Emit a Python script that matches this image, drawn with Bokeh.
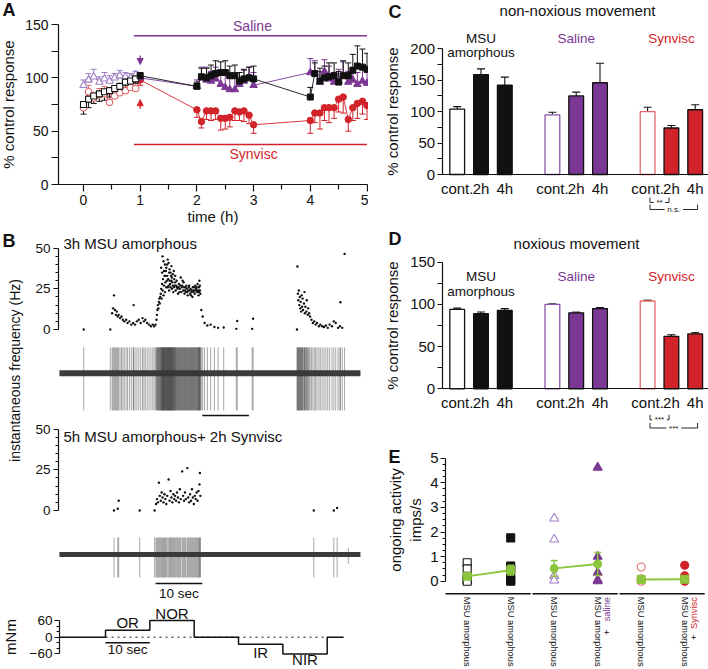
import math
from bokeh.plotting import figure
from bokeh.layouts import row, column
from bokeh.models import Range1d, FixedTicker, Arrow, NormalHead
from bokeh.core.properties import value
from bokeh.embed import file_html
from bokeh.resources import INLINE

FONT = "Liberation Sans"
INK = "#111111"
PURPLE = "#7a3793"
LPURPLE = "#9f7fc4"
RED = "#d2232a"
LRED = "#e3676a"
GREEN = "#8cc63e"
SPIKE = "#3a3a3a"

# ------------------------------------------------------------------ data
# Panel A : % control response over time (h)
base_t = [0.0, 0.09, 0.18, 0.28, 0.37, 0.46, 0.55, 0.64, 0.74, 0.83, 0.92]
msu_base = [75, 80, 83, 85, 87, 88, 90, 92, 96, 97, 99]
msu_base_err = [9, 8, 7, 7, 8, 6, 7, 6, 5, 5, 4]
sal_base = [93, 98, 101, 96, 99, 97, 100, 102, 101, 100, 103]
sal_base_err = [5, 6, 7, 5, 6, 5, 4, 5, 4, 4, 3]
syn_base = [72, 87, 81, 84, 85, 77, 83, 86, 88, 91, 90]
syn_base_err = [5, 6, 5, 6, 7, 6, 6, 7, 6, 6, 5]

post_t = [1.0,
          2.0, 2.08, 2.17, 2.25, 2.33, 2.42, 2.5, 2.58, 2.67, 2.75, 2.83, 2.92, 3.0,
          4.0, 4.08, 4.17, 4.25, 4.33, 4.42, 4.5, 4.58, 4.67, 4.75, 4.83, 4.92, 5.0]
msu_post = [102, 92, 101, 100, 102, 104, 105, 105, 102, 102, 97, 99, 100, 99,
            82, 104, 97, 100, 101, 102, 96, 102, 102, 107, 111, 110, 108]
msu_post_err = [3, 4, 8, 9, 10, 12, 10, 11, 9, 10, 8, 9, 10, 12,
                9, 10, 12, 11, 13, 12, 10, 14, 12, 15, 19, 17, 15]
sal_post = [100, 92, 100, 98, 97, 99, 94, 91, 89, 89, 94, 97, 101, 93,
            105, 104, 96, 106, 99, 96, 97, 102, 96, 98, 94, 97, 95]
sal_post_err = [3, 6, 10, 12, 9, 11, 10, 14, 12, 13, 11, 10, 9, 12,
                13, 12, 10, 11, 12, 9, 11, 13, 10, 12, 11, 12, 10]
syn_post = [98, 70, 59, 69, 69, 69, 62, 62, 63, 69, 68, 69, 65, 56,
            60, 67, 67, 72, 72, 72, 80, 82, 61, 72, 76, 78, 74]
syn_post_err = [5, 7, 6, 8, 9, 8, 11, 10, 9, 9, 8, 10, 8, 8,
                12, 9, 15, 12, 14, 10, 12, 15, 11, 12, 14, 12, 13]

treat_t = [0.89, 5.0]          # extent of the treatment bars (h)
saline_level = 139.5
synvisc_level = 37.5
inj_t = 1.0                    # injection arrows
sal_arrow = (121, 112.5)
syn_arrow = (71, 79.5)

# Panel B : instantaneous frequency (time s, Hz) ; each dot = one spike
b1_early = [(5.4, 0), (11.1, 0), (11.5, 10), (11.7, 13), (11.9, 21), (12.1, 12), (12.3, 9),
            (12.5, 11), (12.7, 8), (12.9, 9), (13.2, 7), (13.5, 8), (13.8, 6), (14.1, 5),
            (14.5, 6), (14.8, 4), (15.2, 5), (15.6, 3), (16.0, 4), (16.1, 15), (16.4, 3),
            (16.8, 5), (17.2, 6), (17.6, 4), (18.0, 7), (18.3, 5), (18.6, 6), (19.0, 4),
            (19.4, 3), (19.8, 2), (20.2, 3), (20.5, 2)]
b1_burst = [(20.8, 3), (21.0, 6), (21.1, 9), (21.2, 12), (21.3, 15), (21.4, 13), (21.5, 17),
            (21.6, 19), (21.7, 16), (21.8, 20), (21.9, 22), (22.0, 25), (22.1, 19), (22.2, 28),
            (22.3, 24), (22.4, 31), (22.5, 21), (22.6, 27), (22.7, 33), (22.8, 23), (22.9, 29),
            (23.0, 36), (23.1, 26), (23.2, 30), (22.3, 45), (22.5, 42), (22.8, 40), (23.1, 38),
            (23.4, 43), (23.6, 41), (23.8, 37), (24.0, 35), (24.2, 39), (24.5, 34), (22.0, 38),
            (22.2, 35), (22.6, 36), (22.9, 33), (23.3, 40), (23.7, 35), (24.3, 32), (24.7, 36),
            (25.0, 33), (23.4, 26), (23.5, 31), (23.7, 24), (23.9, 28), (24.1, 33), (24.3, 25),
            (24.4, 29), (24.6, 23), (24.8, 31), (24.9, 27), (25.1, 24), (25.3, 30), (25.4, 26),
            (25.6, 22), (25.8, 28), (26.0, 25), (26.2, 32), (26.3, 23), (26.5, 27), (26.7, 24),
            (26.8, 29), (23.3, 33), (23.6, 27), (23.8, 30), (24.0, 26), (24.2, 30), (24.5, 27),
            (24.7, 26), (25.0, 29), (25.2, 27), (25.5, 25), (25.7, 26), (25.9, 23), (26.1, 27),
            (26.4, 26), (26.6, 30), (26.9, 26), (27.0, 22), (27.2, 26), (27.3, 23), (27.5, 25),
            (27.7, 21), (27.8, 24), (28.0, 27), (28.2, 22), (28.3, 25), (28.5, 23), (28.7, 20),
            (28.8, 26), (29.0, 24), (29.2, 22), (29.3, 27), (29.5, 25), (29.7, 23), (29.8, 28),
            (30.0, 21), (30.1, 26), (30.2, 30), (30.3, 24), (30.4, 22), (27.1, 24), (27.4, 27),
            (27.6, 23), (27.9, 26), (28.1, 24), (28.4, 21), (28.6, 24), (28.9, 23), (29.1, 26),
            (29.4, 24), (29.6, 26), (29.9, 24), (30.1, 23), (30.3, 27), (30.6, 12), (30.9, 8)]
b1_sparse = [(31.3, 4), (31.9, 2.5), (32.6, 3), (33.4, 1.5), (34.2, 1), (35.4, 1.2),
             (38.1, 0.4), (38.3, 5.3), (41.5, 0.4), (41.7, 6.6)]
b1_second = [(51.1, 0), (51.2, 38.7), (51.3, 22), (51.4, 18), (51.5, 24), (51.6, 15), (51.7, 20),
             (51.8, 13), (51.9, 17), (52.0, 11), (52.1, 21), (52.2, 14), (52.3, 19), (52.4, 12),
             (52.6, 16), (52.7, 23), (52.8, 10), (52.9, 14), (53.1, 11), (53.2, 18), (53.4, 9),
             (53.5, 13), (53.7, 10), (53.9, 8), (54.2, 6), (54.5, 4), (54.8, 5), (55.1, 3),
             (55.4, 4), (55.8, 2), (56.1, 3), (56.5, 2), (56.9, 1.5), (57.3, 2.5), (57.7, 1),
             (58.1, 3), (58.6, 2), (59.0, 5), (59.4, 4), (59.9, 1), (60.3, 2), (60.4, 16.8),
             (60.8, 1), (61.3, 46.5)]
b2_dots = [(11.9, 0), (12.7, 1.1), (12.9, 6), (17.4, 0), (20.6, 0), (20.9, 4), (21.1, 7),
           (21.3, 5), (21.5, 17), (21.7, 9), (21.9, 6), (22.1, 11), (22.3, 8), (22.5, 5),
           (22.7, 10), (22.9, 7), (23.1, 4), (23.3, 9), (23.6, 19), (23.8, 6), (24.0, 12),
           (24.2, 8), (24.4, 5), (24.6, 10), (24.8, 7), (25.0, 9), (25.2, 6), (25.4, 11),
           (25.6, 8), (25.8, 5), (26.0, 13), (26.2, 7), (26.5, 24), (26.7, 9), (26.9, 6),
           (27.1, 11), (27.3, 7), (27.6, 26), (27.8, 8), (28.0, 5), (28.2, 10), (28.4, 6),
           (28.6, 13), (28.8, 8), (29.0, 4), (29.2, 9), (29.4, 7), (29.6, 11), (29.8, 6),
           (30.0, 12), (30.2, 16), (30.3, 23), (30.4, 9), (54.7, 0), (59.0, 0), (59.7, 1.6)]
b2_small_spikes = [62.1]
b_freq_ticks = [0, 25, 50]
b1_title = "3h MSU amorphous"
b2_title = "5h MSU amorphous+ 2h Synvisc"
trace_span = (0.2, 64.7)
b1_scalebar = (30.8, 40.8)
b2_scalebar = (20.8, 30.8)

# Panel B bottom : applied torque (mNm), steps of 10 s
step_edges = [0.13, 10.5, 20.5, 30.5, 40.5, 50.5, 60.5, 64.2]
step_levels = [0, 25, 60, 0, -25, -60, 0]
step_names = ["OR", "NOR", "IR", "NIR"]
mnm_ticks = [-60, 0, 60]

# Panels C and D : % control response bars
groups = [["MSU", "amorphous"], ["Saline"], ["Synvisc"]]
group_colors = [INK, PURPLE, RED]
open_colors = [INK, "#8a55a8", LRED]
bar_labels = ["cont.", "2h", "4h"]
c_vals = [[104, 159, 142], [95, 125, 146], [100, 74, 103]]
c_errs = [[4, 9, 13], [4, 6, 31], [7, 4, 8]]
d_vals = [[94, 89, 93], [100, 90, 95], [104, 62, 65]]
d_errs = [[1.5, 2, 2], [0.6, 0.8, 1.2], [1, 2, 1.5]]
c_sig = [("**", 0, 1), ("n.s.", 0, 2)]
d_sig = [("***", 0, 1), ("***", 0, 2)]

# Panel E : ongoing activity (imps/s)
e_labels = ["MSU amorphous"] * 6
e_extra = {3: ("saline", PURPLE), 5: ("Synvisc", RED)}
e_vals = [[0.75, 0.5, 0.2, 0.05, 0.0], [1.76, 0.62, 0.5, 0.3, 0.05, 0.0],
          [2.55, 1.7, 0.22, 0.03], [4.62, 1.0, 0.35, 0.05, 0.0],
          [0.58, 0.1, 0.0], [0.65, 0.22, 0.1, 0.0]]
e_marker = ["square", "square", "triangle", "triangle", "circle", "circle"]
e_fill = ["white", INK, "white", PURPLE, "white", RED]
e_line = [INK, INK, LPURPLE, PURPLE, LRED, RED]
e_mean = [0.2, 0.45, 0.52, 0.7, 0.07, 0.08]
e_sem = [0.1, 0.2, 0.32, 0.47, 0.13, 0.08]
e_mean_marker = ["square", "square", "circle", "circle", "square", "square"]
e_pairs = [(0, 1), (2, 3), (4, 5)]


# ------------------------------------------------------------------ helpers
def hrange(px0, px1, anchor_px, anchor_val, ppu):
    return Range1d(anchor_val + (px0 - anchor_px) / ppu, anchor_val + (px1 - anchor_px) / ppu)


def vrange(py_top, py_bot, anchor_py, anchor_val, ppu):
    return Range1d(anchor_val - (py_bot - anchor_py) / ppu, anchor_val + (anchor_py - py_top) / ppu)


def fig(w, h, xr, yr):
    p = figure(width=w, height=h, x_range=xr, y_range=yr, output_backend="svg",
               toolbar_location=None, min_border_left=0, min_border_right=0,
               min_border_top=0, min_border_bottom=0)
    p.outline_line_color = None
    p.grid.visible = False
    p.background_fill_color = "white"
    p.border_fill_color = "white"
    return p


def style_axis(ax, ticks, minor, bounds, loc, size, tick_out=6, minor_out=3, standoff=3,
               label=None, label_size=15, label_standoff=5, lw=1.2):
    ax.fixed_location = loc
    ax.bounds = bounds
    ax.ticker = FixedTicker(ticks=ticks, minor_ticks=minor)
    ax.axis_line_color = INK
    ax.axis_line_width = lw
    ax.major_tick_line_color = INK
    ax.major_tick_line_width = lw
    ax.minor_tick_line_color = INK
    ax.minor_tick_line_width = lw
    ax.major_tick_in = 0
    ax.major_tick_out = tick_out
    ax.minor_tick_in = 0
    ax.minor_tick_out = minor_out
    ax.major_label_text_font = FONT
    ax.major_label_text_font_size = f"{size}px"
    ax.major_label_text_color = INK
    ax.major_label_standoff = standoff
    if label is not None:
        ax.axis_label = label
        ax.axis_label_text_font = FONT
        ax.axis_label_text_font_size = f"{label_size}px"
        ax.axis_label_text_font_style = "normal"
        ax.axis_label_text_color = INK
        ax.axis_label_standoff = label_standoff


def txt(p, x, y, s, size, color=INK, align="center", baseline="middle", angle=0.0,
        bold=False, x_offset=0, **kw):
    p.text(x=[x], y=[y], text=[s], text_font=value(FONT), text_font_size=f"{size}px",
           text_color=color, text_align=align, text_baseline=baseline, angle=angle,
           text_font_style="bold" if bold else "normal", x_offset=x_offset, **kw)


def errbars(p, xs, ys, errs, sign, color, cap=6, lw=1.0):
    ends = [y + sign * e for y, e in zip(ys, errs)]
    p.segment(xs, ys, xs, ends, line_color=color, line_width=lw)
    p.scatter(xs, ends, marker="dash", size=cap, line_color=color, line_width=lw)


# ------------------------------------------------------------------ panel A
AX_PPU, AY_PPU = 56.7, 160 / 150
pA = fig(368, 225, hrange(0, 368, 83, 0, AX_PPU), vrange(0, 225, 184, 0, AY_PPU))
a_yloc = (58 - 83) / AX_PPU
style_axis(pA.yaxis[0], [0, 50, 100, 150], [25, 75, 125], (0, 150), a_yloc, 14,
           tick_out=7, minor_out=7, standoff=3, label="% control response", label_size=15,
           label_standoff=5)
style_axis(pA.xaxis[0], [0, 1, 2, 3, 4, 5], [0.5, 1.5, 2.5, 3.5, 4.5], (a_yloc, 5.0), 0, 14,
           tick_out=7, minor_out=5, standoff=3, label="time (h)", label_size=15,
           label_standoff=0)

pA.segment([treat_t[0]], [saline_level], [treat_t[1]], [saline_level], line_color=PURPLE, line_width=1.6)
pA.segment([treat_t[0]], [synvisc_level], [treat_t[1]], [synvisc_level], line_color=RED, line_width=1.6)
txt(pA, 2.98, 148.5, "Saline", 14, PURPLE)
txt(pA, 3.0, 28.5, "Synvisc", 14, RED)
txt(pA, (2 - 83) / AX_PPU, (184 - 9) / AY_PPU, "A", 18, bold=True, align="left")

series = [
    (syn_base, syn_base_err, +1, syn_post, syn_post_err, -1, RED, LRED, "circle", 6.5),
    (sal_base, sal_base_err, +1, sal_post, sal_post_err, +1, PURPLE, LPURPLE, "triangle", 7.5),
    (msu_base, msu_base_err, -1, msu_post, msu_post_err, +1, INK, INK, "square", 6),
]
for bv, be, bs, pv, pe, ps, col, lcol, mk, sz in series:
    pA.line(base_t + post_t, bv + pv, line_color=col, line_width=0.9)
for bv, be, bs, pv, pe, ps, col, lcol, mk, sz in series:
    errbars(pA, base_t, bv, be, bs, lcol, cap=6)
    errbars(pA, post_t, pv, pe, ps, col, cap=6)
for bv, be, bs, pv, pe, ps, col, lcol, mk, sz in series:
    pA.scatter(base_t, bv, marker=mk, size=sz, fill_color="white", line_color=lcol, line_width=1.1)
    pA.scatter(post_t, pv, marker=mk, size=sz, fill_color=col, line_color=col, line_width=1)

pA.add_layout(Arrow(end=NormalHead(size=6, fill_color=PURPLE, line_color=PURPLE),
                    x_start=inj_t, y_start=sal_arrow[0], x_end=inj_t, y_end=sal_arrow[1],
                    line_color=PURPLE, line_width=1.3))
pA.add_layout(Arrow(end=NormalHead(size=6, fill_color=RED, line_color=RED),
                    x_start=inj_t, y_start=syn_arrow[0], x_end=inj_t, y_end=syn_arrow[1],
                    line_color=RED, line_width=1.3))

# ------------------------------------------------------------------ panel B
pLB = fig(28, 376, Range1d(0, 28), Range1d(0, 376))
pLB.xaxis.visible = False
pLB.yaxis.visible = False
txt(pLB, 2, 376 - 15, "B", 18, bold=True, align="left")
txt(pLB, 14, 376 - 145, "instantaneous frequency (Hz)", 14, angle=math.pi / 2)

BX_PPU = 4.667


def burst_panel(h, py0, py1, zero_py, ppu, tr_zero_py, tr_ppu, dots, extra_spikes, spike_hi,
                spike_lo, band, title, title_y, scalebar, bar_y, bar_label=None, label_y=None):
    p = fig(340, h, hrange(28, 368, 58, 0, BX_PPU), vrange(py0, py1, zero_py, 0, ppu))
    p.extra_y_ranges = {"tr": vrange(py0, py1, tr_zero_py, 0, tr_ppu)}
    p.xaxis.visible = False
    style_axis(p.yaxis[0], b_freq_ticks, [5, 10, 15, 20, 30, 35, 40, 45], (0, 50), 0, 13.5,
               tick_out=5, minor_out=3, standoff=3)
    ts = [d[0] for d in dots]
    fs = [d[1] for d in dots]
    spikes = ts + extra_spikes
    p.quad(left=[trace_span[0]], right=[trace_span[1]], bottom=[-band], top=[band],
           y_range_name="tr", fill_color="#3c3c3c", line_color=None)
    p.segment(spikes, [spike_lo] * len(ts) + [spike_lo * 0.4] * len(extra_spikes),
              spikes, [spike_hi] * len(ts) + [spike_hi * 0.4] * len(extra_spikes),
              y_range_name="tr", line_color=SPIKE, line_alpha=0.45, line_width=1)
    p.scatter(ts, fs, marker="circle", size=2.4, fill_color=INK, line_color=None)
    p.segment([scalebar[0]], [bar_y], [scalebar[1]], [bar_y], y_range_name="tr",
              line_color=INK, line_width=1.6)
    if bar_label:
        p.text(x=[(scalebar[0] + scalebar[1]) / 2], y=[label_y], text=[bar_label],
               y_range_name="tr", text_font=value(FONT), text_font_size="13.5px",
               text_color=INK, text_align="center", text_baseline="middle")
    txt(p, 1.07, title_y, title, 15, align="left")
    return p


pB1 = burst_panel(193, 225, 418, 329, 1.626, 372.7, 30,
                  b1_early + b1_burst + b1_sparse + b1_second, [], 0.86, -1.24, 0.1,
                  b1_title, (329 - 243) / 1.626, b1_scalebar, -1.41)
pB2 = burst_panel(183, 418, 601, 510, 1.63, 554, 20, b2_dots, b2_small_spikes, 0.85, -1.15,
                  0.125, b2_title, (510 - 436) / 1.63, b2_scalebar, -1.45, "10 sec", -1.97)

# torque steps
MX_PPU, MY_PPU, MZERO = 4.434, 16.7 / 60, 636.7
pM = fig(368, 68, hrange(0, 368, 105, 10.5, MX_PPU), vrange(601, 669, MZERO, 0, MY_PPU))
pM.xaxis.visible = False
style_axis(pM.yaxis[0], mnm_ticks, [-40, -20, 20, 40], (-60, 60), step_edges[0], 13.5,
           tick_out=5, minor_out=3, standoff=2, label="mNm", label_size=15, label_standoff=8)
pM.step(step_edges, step_levels + [step_levels[-1]], mode="after", line_color=INK, line_width=1.5)
pM.segment([step_edges[1]], [0], [step_edges[6]], [0], line_color=INK, line_width=1,
           line_dash="dotted")
pM.segment([step_edges[1]], [(MZERO - 642.3) / MY_PPU], [step_edges[2]],
           [(MZERO - 642.3) / MY_PPU], line_color=INK, line_width=1.6)
txt(pM, (step_edges[1] + step_edges[2]) / 2, (MZERO - 649) / MY_PPU, "10 sec", 13.5)
for name, i, ty in zip(step_names, [1, 2, 4, 5], [621.7, 612.7, 651.5, 659.0]):
    txt(pM, (step_edges[i] + step_edges[i + 1]) / 2, (MZERO - ty) / MY_PPU, name, 15)

# ------------------------------------------------------------------ panels C & D
CX_PPU = 23.8


def bar_panel(h, py0, py1, zero_py, ppu, vals, errs, yticks, yminor, ymax, letter, letter_py,
              title, title_py, glabel_py, glabel2_py, sig, sig_line_py, title_x):
    p = fig(340, h, hrange(368, 708, 456.7, 0, CX_PPU), vrange(py0, py1, zero_py, 0, ppu))
    yloc = (441.7 - 456.7) / CX_PPU
    xend = (708 - 456.7) / CX_PPU
    style_axis(p.yaxis[0], yticks, yminor, (0, ymax), yloc, 15, tick_out=5, minor_out=5,
               standoff=2, label="% control response", label_size=15, label_standoff=6)
    xs_all = [4 * g + b for g in range(3) for b in range(3)]
    style_axis(p.xaxis[0], xs_all, [], (yloc, xend), 0, 15, tick_out=0, minor_out=0, standoff=5)
    p.xaxis[0].major_tick_line_color = None
    p.xaxis[0].major_label_overrides = {x: bar_labels[x % 4] for x in xs_all}
    for g in range(3):
        xs = [4 * g + b for b in range(3)]
        fills = ["white", group_colors[g], group_colors[g]]
        lines = [open_colors[g], INK, INK]
        errbars(p, xs, vals[g], errs[g], +1, INK, cap=8, lw=1.1)
        p.vbar(x=xs, top=vals[g], bottom=0, width=0.62, fill_color=fills, line_color=lines,
               line_width=1.3)
        lines_txt = groups[g]
        col = INK if g == 0 else group_colors[g]
        txt(p, 4 * g + 1, (zero_py - glabel_py) / ppu, lines_txt[0], 13.5, col)
        if len(lines_txt) > 1:
            txt(p, 4 * g + 1, (zero_py - glabel2_py) / ppu, lines_txt[1], 13.5, col)
    txt(p, (388 - 456.7) / CX_PPU, (zero_py - letter_py) / ppu, letter, 18, bold=True, align="left")
    txt(p, title_x, (zero_py - title_py) / ppu, title, 15)
    # significance brackets (within the Synvisc group)
    for (lab, b0, b1), lpy in zip(sig, sig_line_py):
        x0 = 8 + b0 + 0.1
        x1 = 8 + b1 + (0.1 if b1 == 2 else -0.1)
        yl = (zero_py - lpy) / ppu
        yt = (zero_py - (lpy - 5)) / ppu
        gap = (len(lab) * 3.6 + 4) / CX_PPU / 2
        mid = (x0 + x1) / 2
        p.segment([x0, x1, x0, mid + gap], [yl, yl, yl, yl], [x0, x1, mid - gap, x1],
                  [yt, yt, yl, yl], line_color=INK, line_width=0.9)
        txt(p, mid, yl, lab, 8)
    return p


pC = bar_panel(215, 0, 215, 174, 0.6285, c_vals, c_errs, [0, 50, 100, 150, 200],
               [25, 75, 125, 175], 200, "C", 11, "non-noxious movement", 10, 38, 52, c_sig,
               [202, 209], (577 - 456.7) / CX_PPU)
pD = bar_panel(217, 215, 432, 388.3, 0.8443, d_vals, d_errs, [0, 50, 100, 150],
               [25, 75, 125], 150, "D", 238, "noxious movement", 243, 276, 291, d_sig,
               [419.3, 427.5], (576 - 456.7) / CX_PPU)

# ------------------------------------------------------------------ panel E
EX_PPU, EY_PPU, EZERO = 43.5, 24.6, 580.7
pE = fig(340, 237, hrange(368, 708, 466.7, 0, EX_PPU), vrange(432, 669, EZERO, 0, EY_PPU))
e_yloc = (445 - 466.7) / EX_PPU
e_xloc = (EZERO - 593.3) / EY_PPU
style_axis(pE.yaxis[0], [0, 1, 2, 3, 4, 5],
           [v / 4 for v in range(21) if v % 4], (0, 5), e_yloc, 15, tick_out=5, minor_out=3,
           standoff=2, label="ongoing activity\nimps/s", label_size=15, label_standoff=3)
style_axis(pE.xaxis[0], list(range(6)), [], (e_yloc, 5.5), e_xloc, 9.3, tick_out=0,
           minor_out=0, standoff=3)
pE.xaxis[0].axis_line_color = None
pE.xaxis[0].major_tick_line_color = None
pE.xaxis[0].major_label_overrides = {i: e_labels[i] for i in range(6)}
pE.xaxis[0].major_label_orientation = "vertical"
for a, b in e_pairs:
    pE.segment([a - 0.5], [e_xloc], [b + 0.46], [e_xloc], line_color=INK, line_width=1.6)
for k, (lab, col) in e_extra.items():
    ytop = (EZERO - 596.5) / EY_PPU
    txt(pE, k, ytop, lab, 9.3, col, align="right", angle=math.pi / 2, x_offset=9)
    plen = len(lab) * 4.9 + 6
    txt(pE, k, (EZERO - 596.5 - plen) / EY_PPU, "+", 9.3, INK, angle=math.pi / 2, x_offset=9)
for i in range(6):
    vs = e_vals[i]
    pE.scatter([i] * len(vs), vs, marker=e_marker[i], size=8 if e_marker[i] != "triangle" else 9,
               fill_color=e_fill[i], line_color=e_line[i], line_width=1.1)
for a, b in e_pairs:
    pE.line([a, b], [e_mean[a], e_mean[b]], line_color=GREEN, line_width=1.8)
xs6 = list(range(6))
errbars(pE, xs6, e_mean, e_sem, +1, GREEN, cap=7, lw=1.5)
errbars(pE, xs6, e_mean, e_sem, -1, GREEN, cap=7, lw=1.5)
for i in range(6):
    pE.scatter([i], [e_mean[i]], marker=e_mean_marker[i], size=8, fill_color=GREEN,
               line_color=GREEN)
txt(pE, (388 - 466.7) / EX_PPU, (EZERO - 456) / EY_PPU, "E", 18, bold=True, align="left")

# ------------------------------------------------------------------ layout
left = column(pA, row(pLB, column(pB1, pB2)), pM)
right = column(pC, pD, pE)
root = row(left, right)
open("out.html", "w").write(file_html(root, INLINE))
